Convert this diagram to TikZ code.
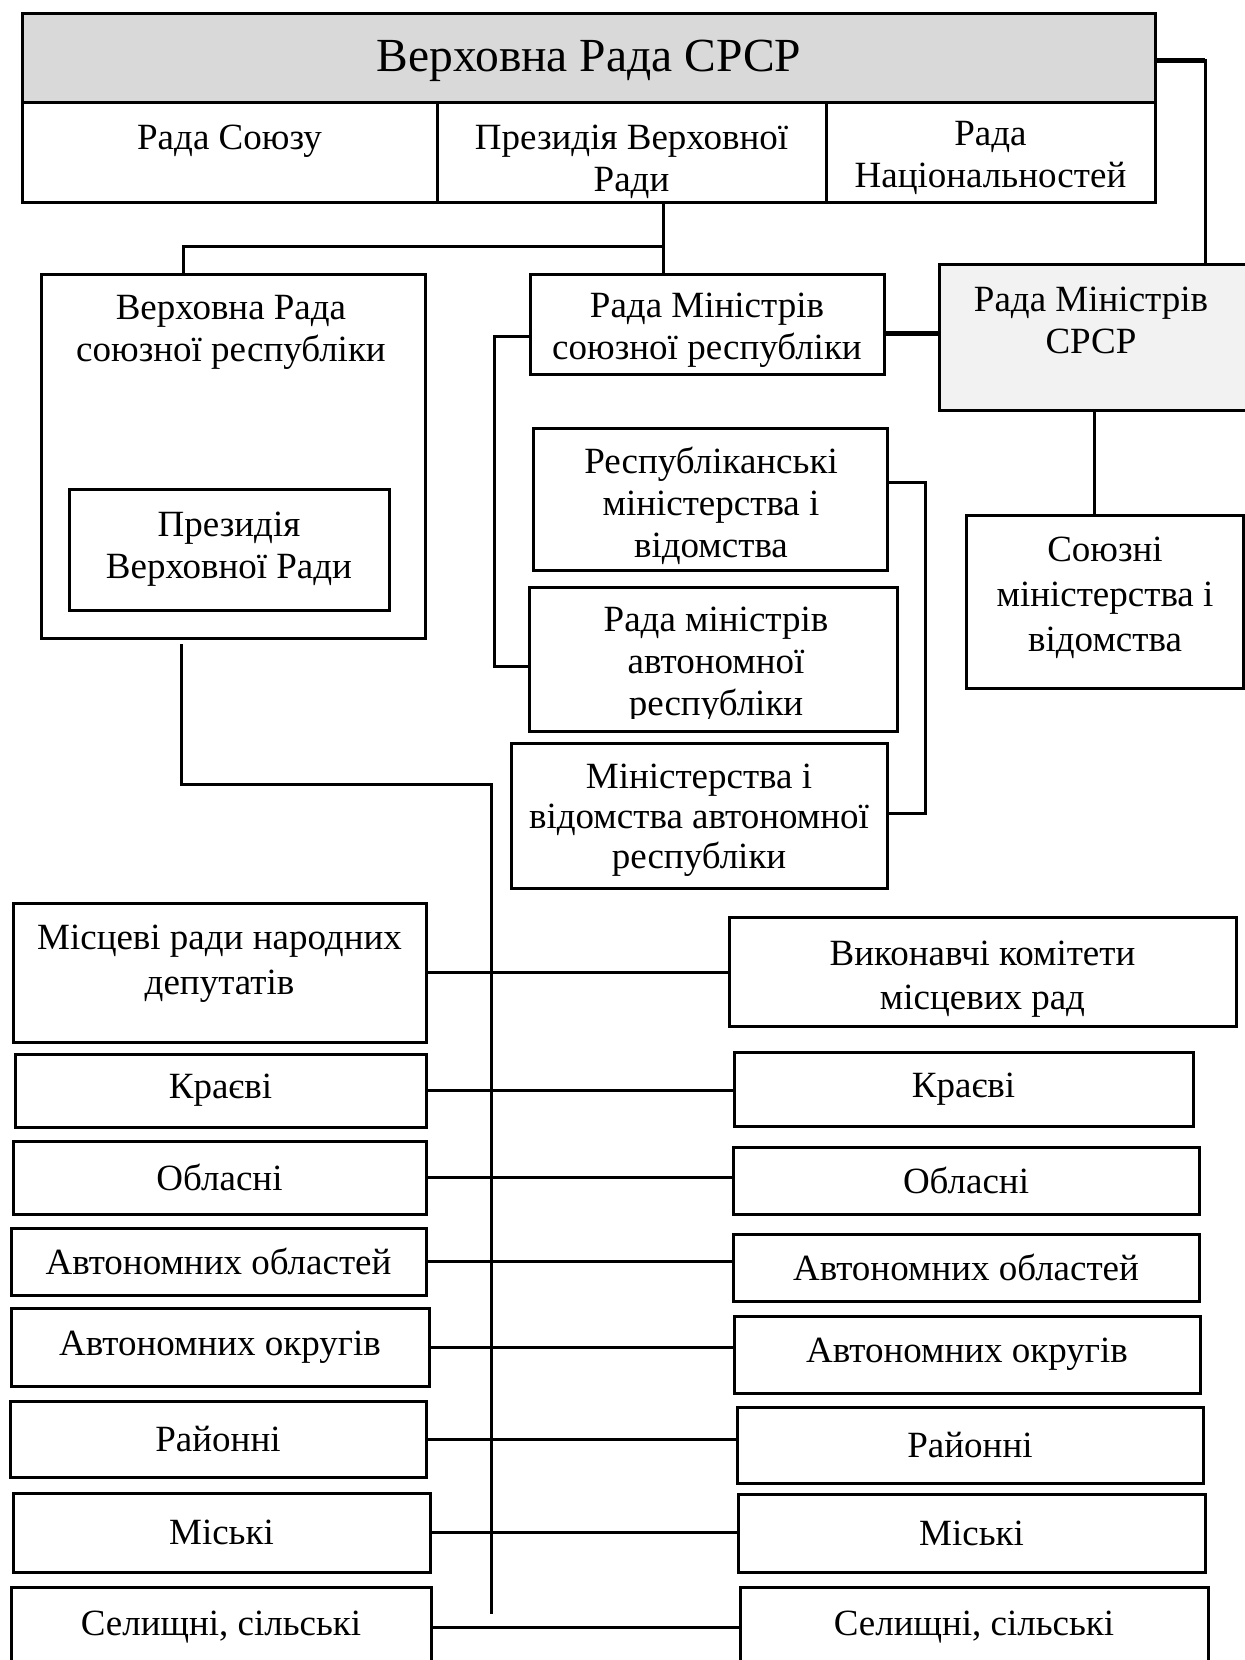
\documentclass[tikz,border=0pt]{standalone}
\usepackage{fontspec}
\setmainfont{Liberation Serif}
\usetikzlibrary{positioning}

\begin{document}
\begin{tikzpicture}[
        x = 1pt, y = -1pt,
        every node/.style = {inner sep = 0pt, outer sep = 0pt, align = center,
                             font = \fontsize{37}{42}\selectfont},
        box/.style = {draw, line width = 3pt},
        link/.style = {line width = 3pt},
        bold link/.style = {line width = 5pt},
        wide lines/.style = {font = \fontsize{37}{45}\selectfont}
    ]

      \useasboundingbox (0,0) rectangle (1245,1660);

      % union level
      \node[box, fill = gray!30, minimum width = 1133pt, minimum height = 89pt] (vr) at (588.5,57.5) {};
      \node[font = \fontsize{47.5}{54}\selectfont] (vr text) at (589,61) {Верховна Рада СРСР};

      \node[box, minimum width = 415pt, minimum height = 100pt,
            below right = 0pt and 0pt of vr.south west] (rs) {};
      \node[box, minimum width = 389pt, minimum height = 100pt, right = 0pt of rs] (prez) {};
      \node[box, minimum width = 329pt, minimum height = 100pt, right = 0pt of prez] (rn) {};

      \node (rs text) at ([yshift = 10.5pt]rs.center) {Рада Союзу};
      \node (prez text) at ([yshift = -9.5pt]prez.center) {Президія Верховної\\Ради};
      \node (rn text) at ([yshift = -5.5pt]rn.center) {Рада\\Національностей};

      \node[box, fill = gray!10, minimum width = 311pt, minimum height = 146pt] (rmsrsr) at (1094.5,337) {};
      \node (rmsrsr text) at (1091,320) {Рада Міністрів\\СРСР};

      \node[box, minimum width = 277pt, minimum height = 173pt] (soyuzni) at (1104.5,601.5) {};
      \node[wide lines] (soyuzni text) at (1105,598) {Союзні\\міністерства і\\відомства};

      % republic level
      \node[box, minimum width = 384pt, minimum height = 364pt] (vrs) at (233,456) {};
      \node (vrs text) at (231,332) {Верховна Рада\\союзної республіки};
      \node[box, minimum width = 320pt, minimum height = 121pt] (prezs) at (229,549.5) {Президія\\Верховної Ради};

      \node[box, minimum width = 354pt, minimum height = 100pt] (rmsr) at (707,324) {};
      \node (rmsr text) at (707,330.5) {Рада Міністрів\\союзної республіки};

      \node[box, minimum width = 354pt, minimum height = 142pt] (rep) at (710,499) {};
      \node (rep text) at (711,506) {Республіканські\\міністерства і\\відомства};

      \node[box, minimum width = 368pt, minimum height = 144pt] (rma) at (713.5,659) {};
      \begin{scope}
        \clip (rma.north west) rectangle ([yshift = 13pt]rma.south east);
        \node (rma text) at (716,665) {Рада міністрів\\автономної\\республіки};
      \end{scope}

      \node[box, minimum width = 376pt, minimum height = 145pt] (mva) at (699,815.5) {};
      \node[font = \fontsize{37}{40}\selectfont] (mva text) at (699,820) {Міністерства і\\відомства автономної\\республіки};

      % local level
      \node[box, minimum width = 413pt, minimum height = 139pt] (ml) at (219.5,972.5) {};
      \node[wide lines] (ml text) at (219.5,964) {Місцеві ради народних\\депутатів};
      \node[box, minimum width = 507pt, minimum height = 109pt] (vk) at (982.5,971.5) {};
      \node[font = \fontsize{37}{44}\selectfont] (vk text) at (982.5,979.5) {Виконавчі комітети\\місцевих рад};

      \node[box, minimum width = 411pt, minimum height = 73pt] (kl) at (220.5,1090.5) {Краєві};
      \node[box, minimum width = 413pt, minimum height = 73pt] (ol) at (219.5,1177.5) {Обласні};
      \node[box, minimum width = 415pt, minimum height = 67pt] (aol) at (218.5,1261.5) {Автономних областей};
      \node[box, minimum width = 418pt, minimum height = 78pt] (aokl) at (220,1347) {Автономних округів};
      \node[box, minimum width = 416pt, minimum height = 76pt] (rl) at (218,1439) {Районні};
      \node[box, minimum width = 417pt, minimum height = 79pt] (mkl) at (221.5,1532.5) {Міські};
      \node[box, minimum width = 420pt, minimum height = 80pt] (sl) at (221,1627) {Селищні, сільські};

      \node[box, minimum width = 459pt, minimum height = 74pt] (kr) at (963.5,1089) {Краєві};
      \node[box, minimum width = 466pt, minimum height = 67pt] (or) at (966,1180.5) {Обласні};
      \node[box, minimum width = 466pt, minimum height = 67pt] (aor) at (966,1267.5) {Автономних областей};
      \node[box, minimum width = 466pt, minimum height = 77pt] (aokr) at (967,1354.5) {Автономних округів};
      \node[box, minimum width = 466pt, minimum height = 76pt] (rr) at (970,1445) {Районні};
      \node[box, minimum width = 467pt, minimum height = 78pt] (mkr) at (971.5,1533) {Міські};
      \node[box, minimum width = 468pt, minimum height = 80pt] (sr) at (974,1627) {Селищні, сільські};

      \coordinate (fork) at (663,246);
      \coordinate (trunk) at (491,1614);

      \draw[link] (fork |- prez.south) -- (fork |- rmsr.north);
      \draw[link] (fork) -| ([xshift = -50pt]vrs.north);
      \draw[bold link] (vr.east |- 0,60) -- (1205,60);
      \draw[link] (vr.east |- 0,60) -| (rmsrsr.north -| 1205,0);
      \draw[bold link] (rmsr.east |- 0,333) -- (rmsrsr.west |- 0,333);
      \draw[link] (rmsrsr.south) -- (rmsrsr.south |- soyuzni.north);

      \draw[link] (rmsr.west |- 0,336) -- ++(-36,0) |- (rma.west |- 0,666);
      \draw[link] (rep.east |- 0,482) -- ++(38,0) |- (mva.east |- 0,813);

      \draw[link, shorten < = 6pt] ([xshift = -52pt]vrs.south) |- (trunk |- 0,784) -- (trunk);

      \path[link, draw]
            (ml.east) edge (ml.east -| vk.west)
            (kl.east) edge (kl.east -| kr.west)
            (ol.east) edge (ol.east -| or.west)
            (aol.east) edge (aol.east -| aor.west)
            (aokl.east) edge (aokl.east -| aokr.west)
            (rl.east) edge (rl.east -| rr.west)
            (mkl.east) edge (mkl.east -| mkr.west)
            (sl.east) edge (sl.east -| sr.west);

\end{tikzpicture}
\end{document}
